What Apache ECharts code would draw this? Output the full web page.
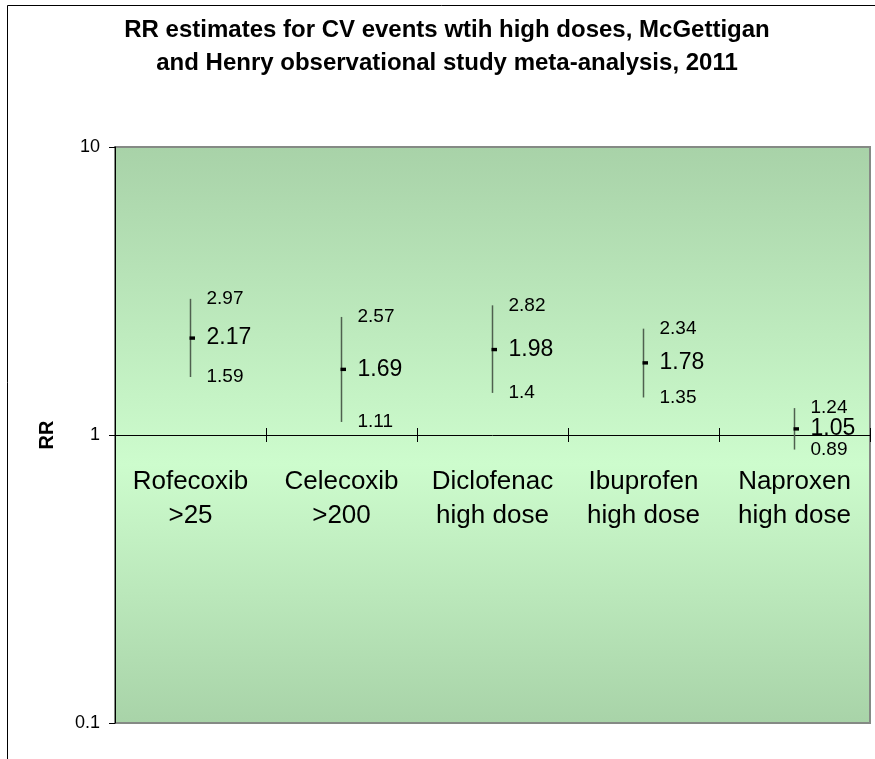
<!DOCTYPE html>
<html>
<head>
<meta charset="utf-8">
<title>RR estimates for CV events</title>
<script src="https://cdn.jsdelivr.net/npm/echarts@6/dist/echarts.min.js"></script>
<style>
  html, body { margin: 0; padding: 0; background: #fff; }
  #chart { width: 875px; height: 759px; }
</style>
</head>
<body>
<div id="chart"></div>
<script>
const categories = ['Rofecoxib\n>25', 'Celecoxib\n>200', 'Diclofenac\nhigh dose', 'Ibuprofen\nhigh dose', 'Naproxen\nhigh dose']
const rrEstimate = [2.17, 1.69, 1.98, 1.78, 1.05]
const ciLower = [1.59, 1.11, 1.4, 1.35, 0.89]
const ciUpper = [2.97, 2.57, 2.82, 2.34, 1.24]
const yTicks = [0.1, 1, 10]

const font = 'Liberation Sans, Arial, sans-serif'

const chart = echarts.init(document.getElementById('chart'), null, { renderer: 'canvas' })

// one row per drug: [category index, estimate, lower, upper]
const rows = categories.map((c, i) => [i, rrEstimate[i], ciLower[i], ciUpper[i]])

const renderErrorBar = (params, api) => {
  const idx = api.value(0)
  const mid = api.coord([idx, api.value(1)])
  const low = api.coord([idx, api.value(2)])
  const high = api.coord([idx, api.value(3)])
  const x = mid[0]
  const tx = x + 16
  return {
    type: 'group',
    children: [
      {
        type: 'line',
        shape: { x1: x, y1: high[1], x2: x, y2: low[1] },
        style: { stroke: '#4f604f', lineWidth: 1.5 }
      },
      {
        type: 'rect',
        shape: { x: x - 1, y: mid[1] - 1.7, width: 5.5, height: 3.4 },
        style: { fill: '#000' }
      },
      {
        type: 'text',
        style: { x: tx, y: high[1], text: String(api.value(3)), font: '19px ' + font, fill: '#000', verticalAlign: 'middle' }
      },
      {
        type: 'text',
        style: { x: tx, y: mid[1], text: String(api.value(1)), font: '23px ' + font, fill: '#000', verticalAlign: 'middle' }
      },
      {
        type: 'text',
        style: { x: tx, y: low[1], text: String(api.value(2)), font: '19px ' + font, fill: '#000', verticalAlign: 'middle' }
      }
    ]
  }
}

const option = {
  backgroundColor: '#fff',
  animation: false,
  title: {
    text: 'RR estimates for CV events wtih high doses, McGettigan\nand Henry observational study meta-analysis, 2011',
    left: 447,
    top: 14,
    padding: 0,
    textAlign: 'center',
    textStyle: {
      fontFamily: font,
      fontSize: 24,
      fontWeight: 'bold',
      color: '#000',
      lineHeight: 33
    }
  },
  graphic: [
    {
      type: 'rect',
      shape: { x: 7.5, y: 5.5, width: 900, height: 800 },
      style: { fill: 'none', stroke: '#000', lineWidth: 1 },
      silent: true
    }
  ],
  grid: [
    {
      left: 115,
      right: 5,
      top: 147,
      bottom: 36,
      show: true,
      borderColor: '#858a85',
      borderWidth: 2,
      backgroundColor: {
        type: 'linear', x: 0, y: 0, x2: 0, y2: 1,
        colorStops: [
          { offset: 0, color: '#a8d2a8' },
          { offset: 0.55, color: '#cdfccd' },
          { offset: 1, color: '#a8d3a8' }
        ]
      }
    },
    // top half of the plot, only used to put the category axis at RR = 1
    { left: 115, right: 5, top: 147, bottom: 324 }
  ],
  xAxis: [
    {
      gridIndex: 0,
      type: 'category',
      data: categories,
      show: false
    },
    {
      gridIndex: 1,
      type: 'category',
      data: categories,
      position: 'bottom',
      axisLine: { lineStyle: { color: '#000', width: 1 } },
      axisTick: { show: true, length: 7, lineStyle: { color: '#000' } },
      axisLabel: {
        interval: 0,
        margin: 30,
        color: '#000',
        fontFamily: font,
        fontSize: 26,
        lineHeight: 34,
        align: 'center'
      }
    },
    {
      gridIndex: 1,
      type: 'category',
      data: categories,
      position: 'bottom',
      axisLine: { show: false },
      axisTick: { show: true, inside: true, length: 7, lineStyle: { color: '#000' } },
      axisLabel: { show: false }
    }
  ],
  yAxis: [
    {
      gridIndex: 0,
      type: 'log',
      logBase: 10,
      min: yTicks[0],
      max: yTicks[yTicks.length - 1],
      name: 'RR',
      nameLocation: 'middle',
      nameGap: 58,
      nameRotate: 90,
      nameTextStyle: { fontFamily: font, fontSize: 20, fontWeight: 'bold', color: '#000' },
      axisLine: { show: true, lineStyle: { color: '#000', width: 1 } },
      axisTick: { show: true, length: 6, lineStyle: { color: '#000' } },
      axisLabel: {
        margin: 15,
        color: '#000',
        fontFamily: font,
        fontSize: 18,
        formatter: (v) => String(v)
      },
      splitLine: { show: false }
    },
    {
      gridIndex: 1,
      type: 'value',
      show: false
    }
  ],
  series: [
    {
      name: 'RR',
      type: 'custom',
      xAxisIndex: 0,
      yAxisIndex: 0,
      renderItem: renderErrorBar,
      encode: { x: 0, y: [1, 2, 3] },
      data: rows,
      z: 5
    }
  ]
}

chart.setOption(option)
</script>
</body>
</html>
